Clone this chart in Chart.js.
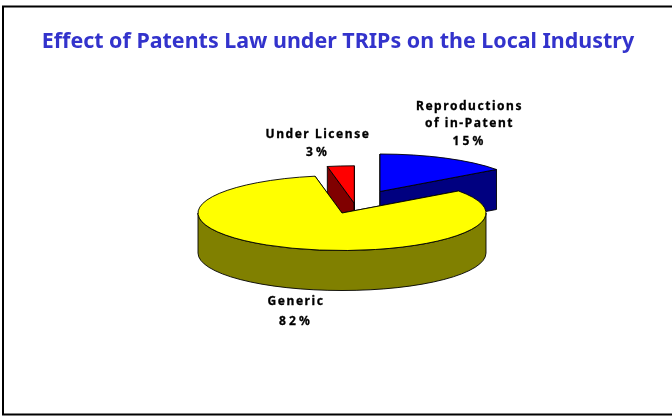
<!DOCTYPE html>
<html>
<head>
<meta charset="utf-8">
<style>html,body{margin:0;padding:0;background:#fff}canvas{display:block}</style>
<script src="https://cdn.jsdelivr.net/npm/chart.js@4"></script>
</head>
<body>
<div style="width:672px;height:416px"><canvas id="c"></canvas></div>
<script>
const categories = ['Reproductions of in-Patent', 'Generic', 'Under License'];
const percentValues = [15, 82, 3];
const labelLines = [['Reproductions', 'of in-Patent', '15%'], ['Generic', '82%'], ['Under License', '3%']];
const topColours = ['#0000ff', '#ffff00', '#ff0000'];
const sideColours = ['#000080', '#808000', '#800000'];
const titleText = 'Effect of Patents Law under TRIPs on the Local Industry';

// Presentation constants
const TILT = 37.5 / 144, DEPTH = 40;
const sliceShift = [[42, -21.5], [4, 0], [16.3, -9.7]];
const labelAnchor = [[469.5, 106.5, 17.5], [296, 302, 19.5], [318, 135, 18]];
const drawOrder = [0, 2, 1];

const pie3d = {
  id: 'pie3d',
  beforeDatasetsDraw(chart) {
    const ctx = chart.ctx, arcs = chart.getDatasetMeta(0).data;
    ctx.save();
    ctx.lineWidth = 0.9; ctx.strokeStyle = '#000'; ctx.lineJoin = 'round';
    for (const i of drawOrder) {
      const a = arcs[i];
      const cx = a.x + sliceShift[i][0], cy = a.y + sliceShift[i][1];
      const rx = a.outerRadius, ry = rx * TILT;
      const s = a.startAngle, e = a.endAngle;
      const pt = t => [cx + rx * Math.cos(t), cy + ry * Math.sin(t)];
      ctx.fillStyle = sideColours[i];
      // cut faces
      for (const t of [s, e]) {
        const [px, py] = pt(t);
        ctx.beginPath();
        ctx.moveTo(cx, cy); ctx.lineTo(px, py);
        ctx.lineTo(px, py + DEPTH); ctx.lineTo(cx, cy + DEPTH);
        ctx.closePath(); ctx.fill(); ctx.stroke();
      }
      // outer wall (front half of the rim only)
      for (let k = -1; k <= 1; k++) {
        const lo = Math.max(s, 2 * Math.PI * k), hi = Math.min(e, Math.PI + 2 * Math.PI * k);
        if (hi > lo) {
          ctx.beginPath();
          ctx.ellipse(cx, cy, rx, ry, 0, lo, hi);
          ctx.ellipse(cx, cy + DEPTH, rx, ry, 0, hi, lo, true);
          ctx.closePath(); ctx.fill(); ctx.stroke();
        }
      }
      // top face
      ctx.fillStyle = topColours[i];
      ctx.beginPath();
      ctx.moveTo(cx, cy);
      ctx.ellipse(cx, cy, rx, ry, 0, s, e);
      ctx.closePath(); ctx.fill(); ctx.stroke();
    }
    ctx.restore();
    return false;
  },
  afterDraw(chart) {
    const ctx = chart.ctx;
    ctx.save();
    ctx.fillStyle = '#000'; ctx.strokeStyle = '#000'; ctx.lineWidth = 0.3;
    ctx.textAlign = 'center'; ctx.textBaseline = 'middle';
    ctx.font = 'bold 12px "Noto Sans"';
    labelLines.forEach((lines, i) => {
      const [x, y, dy] = labelAnchor[i];
      lines.forEach((t, j) => {
        ctx.letterSpacing = t.endsWith('%') ? '3.2px' : '1.55px';
        ctx.fillText(t, x, y + j * dy);
        ctx.strokeText(t, x, y + j * dy);
      });
    });
    ctx.restore();
  },
  beforeDraw(chart) {
    const ctx = chart.ctx;
    ctx.save();
    ctx.fillStyle = '#fff';
    ctx.fillRect(0, 0, chart.width, chart.height);
    ctx.strokeStyle = '#000'; ctx.lineWidth = 2;
    ctx.beginPath();
    ctx.moveTo(680, 6.5); ctx.lineTo(3, 6.5); ctx.lineTo(3, 414.5); ctx.lineTo(680, 414.5);
    ctx.stroke();
    ctx.restore();
  }
};

new Chart(document.getElementById('c'), {
  type: 'pie',
  data: { labels: categories, datasets: [{ data: percentValues, backgroundColor: topColours, borderWidth: 0 }] },
  options: {
    responsive: true, maintainAspectRatio: false, animation: false, radius: 144,
    layout: { padding: { left: 4, bottom: 68.7 } },
    plugins: {
      legend: { display: false }, tooltip: { enabled: false },
      title: { display: true, text: titleText, color: '#3333cc', align: 'center',
        font: { family: '"Noto Sans"', weight: 'bold', size: 21.44 }, padding: { top: 29, bottom: 24 } }
    }
  },
  plugins: [pie3d]
});
</script>
</body>
</html>
